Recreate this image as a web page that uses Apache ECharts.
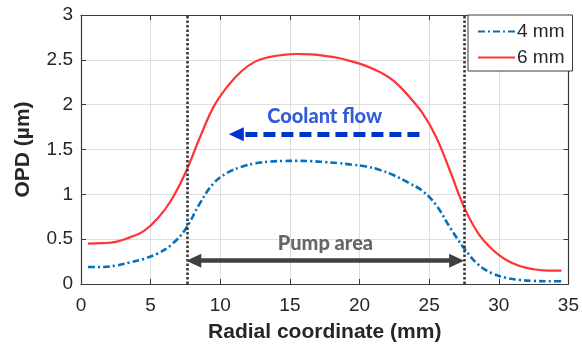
<!DOCTYPE html>
<html><head><meta charset="utf-8">
<script src="https://cdn.jsdelivr.net/npm/echarts@6/dist/echarts.min.js"></script>
<style>html,body{margin:0;padding:0;background:#fff}#c{width:582px;height:348px}</style>
</head><body><div id="c"></div>
<script>
// ---- data ----
const xTicks = [0, 5, 10, 15, 20, 25, 30, 35];
const yTicks = [0, 0.5, 1, 1.5, 2, 2.5, 3];
const series4mmName = '4 mm';
const series6mmName = '6 mm';
const radial = [0.5,1.5,2.5,3.5,4.5,5.5,6.5,7.5,8.5,9.5,10.5,11.5,12.5,13.5,14.5,15.5,16.5,17.5,18.5,19.5,20.5,21.5,22.5,23.5,24.5,25.5,26.5,27.5,28.5,29.5,30.5,31.5,32.5,33.5,34.5];
const opd4mm = [0.19,0.19,0.205,0.24,0.28,0.34,0.44,0.61,0.89,1.12,1.24,1.305,1.345,1.365,1.372,1.373,1.37,1.36,1.348,1.33,1.31,1.27,1.21,1.13,1.04,0.88,0.63,0.40,0.22,0.12,0.07,0.045,0.035,0.03,0.03];
const opd6mm = [0.45,0.455,0.47,0.52,0.59,0.73,0.94,1.24,1.62,1.97,2.2,2.37,2.48,2.53,2.555,2.565,2.56,2.545,2.52,2.48,2.43,2.36,2.26,2.1,1.91,1.64,1.26,0.86,0.57,0.39,0.27,0.2,0.165,0.15,0.15];
const pumpEdges = [7.6, 27.55];
const pumpArrowEnds = [8.1, 26.97];   // arrow-head centres (tips touch the dotted lines)
const pumpArrowY = 0.26;
const pumpLabel = [17.55, 0.45, 'Pump area'];
const coolantArrow = [[24.3, 1.67], [11.15, 1.67]];
const coolantLabel = [17.5, 1.87, 'Coolant flow'];
const xName = 'Radial coordinate (mm)';
const yName = 'OPD (µm)';

const axisColor = '#3a3a3a';
const tickFont = {fontFamily: 'Liberation Sans', fontSize: 19, color: '#262626'};

const chart = echarts.init(document.getElementById('c'));
const baseX = {type:'value', min:0, max:35, interval:5,
  axisLine:{show:true, onZero:false, lineStyle:{color:axisColor, width:1.2}},
  axisTick:{show:true, inside:true, length:5, lineStyle:{color:axisColor}},
  splitLine:{show:true, lineStyle:{color:'#dedede', width:1}}};
const baseY = {type:'value', min:0, max:3, interval:0.5,
  axisLine:{show:true, onZero:false, lineStyle:{color:axisColor, width:1.2}},
  axisTick:{show:true, inside:true, length:5, lineStyle:{color:axisColor}},
  splitLine:{show:true, lineStyle:{color:'#dedede', width:1}}};

const pairs = ys => radial.map((x, i) => [x, ys[i]]);

chart.setOption({
  animation:false,
  grid:{left:81, right:10, top:15, bottom:62},
  xAxis:[
    Object.assign({}, baseX, {position:'bottom',
      name:xName, nameLocation:'middle', nameGap:38,
      nameTextStyle:{fontFamily:'Liberation Sans', fontWeight:'bold', fontSize:21, color:'#262626'},
      axisLabel:Object.assign({margin:12, formatter:v=>String(v)}, tickFont)}),
    Object.assign({}, baseX, {position:'top', axisLabel:{show:false}, splitLine:{show:false}})
  ],
  yAxis:[
    Object.assign({}, baseY, {position:'left',
      name:yName, nameLocation:'middle', nameGap:47,
      nameTextStyle:{fontFamily:'Liberation Sans', fontWeight:'bold', fontSize:21, color:'#262626'},
      axisLabel:Object.assign({margin:8, formatter:v=>String(v)}, tickFont)}),
    Object.assign({}, baseY, {position:'right', axisLabel:{show:false}, splitLine:{show:false}})
  ],
  legend:{orient:'vertical', left:468, top:15, itemWidth:37, itemHeight:14, itemGap:7,
    padding:[7,8,4,9], backgroundColor:'#fff', borderColor:axisColor, borderWidth:1, borderRadius:0,
    itemStyle:{opacity:0, borderWidth:0},
    textStyle:{fontFamily:'Liberation Sans', fontSize:19, color:'#262626', padding:[0,0,0,-3]},
    data:[series4mmName, series6mmName]},
  series:[
    {name:series4mmName, type:'line', data:pairs(opd4mm), smooth:0.4, showSymbol:false, symbol:'none',
     lineStyle:{color:'#0072BD', width:2.6, type:[7,3,2,3]}, itemStyle:{color:'#0072BD'}, z:3},
    {name:series6mmName, type:'line', data:pairs(opd6mm), smooth:0.4, showSymbol:false, symbol:'none',
     lineStyle:{color:'#FF3333', width:2.2}, itemStyle:{color:'#FF3333'}, z:3},
    {type:'line', data:[], silent:true,
     markLine:{silent:true, symbol:['none','none'], animation:false, label:{show:false},
       lineStyle:{color:'#3a3a3a', width:2.6, type:[2.5,2]},
       data:pumpEdges.map(v=>({xAxis:v}))}},
    {type:'line', data:[], silent:true,
     markLine:{silent:true, symbol:['triangle','triangle'], symbolSize:[14,15], animation:false, label:{show:false},
       lineStyle:{color:'#404040', width:4.5, type:'solid'},
       data:[[{coord:[pumpArrowEnds[0], pumpArrowY]},{coord:[pumpArrowEnds[1], pumpArrowY]}]]}},
    {type:'line', data:[], silent:true,
     markLine:{silent:true, symbol:['none','triangle'], symbolSize:[14,15], animation:false, label:{show:false},
       lineStyle:{color:'#0033CC', width:5, type:[12,6]},
       data:[[{coord:coolantArrow[0]},{coord:coolantArrow[1]}]]}},
    {type:'scatter', symbolSize:0, silent:true, data:[pumpLabel],
     label:{show:true, position:'inside', formatter:p=>p.data[2],
       fontFamily:'Lato', fontWeight:900, fontSize:20, color:'#404040'}},
    {type:'scatter', symbolSize:0, silent:true, data:[coolantLabel],
     label:{show:true, position:'inside', formatter:p=>p.data[2],
       fontFamily:'Lato', fontWeight:900, fontSize:20, color:'#0033CC'}}
  ]
});
</script></body></html>
